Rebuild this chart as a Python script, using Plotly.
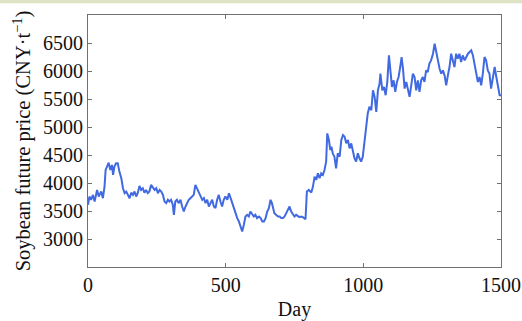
import plotly.graph_objects as go

days = [0, 5, 11, 18, 24, 33, 39, 48, 54, 60, 64, 70, 75, 81, 87, 91, 96, 102, 108, 114,
        121, 127, 133, 139, 145, 151, 157, 163, 169, 175, 181, 187, 193, 199, 205, 211, 217, 223, 229, 236,
        242, 248, 254, 260, 266, 272, 278, 284, 290, 296, 302, 308, 312, 317, 323, 329, 336, 342, 348, 354,
        360, 366, 372, 378, 384, 390, 396, 402, 409, 415, 421, 427, 433, 439, 445, 451, 457, 463, 469, 475,
        481, 487, 493, 499, 506, 512, 518, 524, 530, 536, 542, 548, 554, 560, 566, 572, 578, 584, 590, 596,
        602, 608, 614, 621, 627, 633, 639, 645, 651, 657, 663, 668, 673, 677, 683, 690, 696, 702, 708, 714,
        720, 726, 732, 738, 744, 750, 756, 762, 768, 774, 780, 790, 795, 802, 811, 817, 823, 829, 835, 841,
        847, 853, 859, 865, 869, 875, 880, 884, 889, 895, 901, 907, 914, 920, 926, 932, 938, 944, 950, 956,
        962, 968, 974, 980, 986, 992, 998, 1004, 1010, 1016, 1022, 1029, 1035, 1041, 1047, 1053, 1059, 1062, 1069, 1075,
        1081, 1087, 1093, 1098, 1104, 1110, 1116, 1122, 1128, 1134, 1139, 1144, 1150, 1156, 1162, 1168, 1174, 1180, 1186, 1192,
        1198, 1204, 1210, 1216, 1222, 1228, 1234, 1240, 1246, 1253, 1259, 1265, 1271, 1277, 1283, 1289, 1295, 1301, 1307, 1313,
        1319, 1325, 1331, 1337, 1343, 1349, 1355, 1361, 1368, 1374, 1380, 1386, 1392, 1398, 1404, 1410, 1416, 1422, 1428, 1434,
        1440, 1446, 1452, 1458, 1464, 1470, 1477, 1483, 1489, 1495, 1500]

price = [3610, 3758, 3700, 3788, 3669, 3877, 3758, 3847, 3728, 3936, 4233, 4292, 4363, 4233, 4322, 4144, 4292, 4352, 4352, 4203,
         4085, 3907, 3818, 3847, 3788, 3729, 3827, 3788, 3847, 3758, 3827, 3948, 3877, 3907, 3827, 3877, 3818, 3847, 3966, 3907,
         3877, 3907, 3818, 3877, 3847, 3788, 3669, 3640, 3700, 3669, 3700, 3610, 3432, 3669, 3700, 3640, 3700, 3580, 3491, 3580,
         3640, 3700, 3729, 3758, 3788, 3966, 3907, 3818, 3758, 3700, 3729, 3640, 3700, 3580, 3640, 3700, 3580, 3551, 3700, 3788,
         3669, 3580, 3700, 3758, 3700, 3818, 3729, 3640, 3521, 3432, 3373, 3314, 3224, 3135, 3254, 3402, 3432, 3402, 3491, 3432,
         3402, 3432, 3373, 3402, 3373, 3314, 3314, 3373, 3491, 3551, 3700, 3640, 3521, 3462, 3432, 3402, 3402, 3373, 3373, 3402,
         3462, 3521, 3580, 3491, 3432, 3402, 3432, 3402, 3390, 3402, 3391, 3355, 3847, 3877, 3830, 3936, 4114, 4055, 4174, 4085,
         4174, 4144, 4233, 4381, 4886, 4767, 4589, 4648, 4530, 4470, 4263, 4530, 4470, 4767, 4856, 4826, 4708, 4767, 4619, 4708,
         4589, 4441, 4381, 4530, 4441, 4381, 4470, 4737, 5063, 5241, 5360, 5300, 5656, 5538, 5270, 5656, 5775, 5953, 5656, 5716,
         5567, 5804, 6279, 6012, 5716, 5834, 5626, 5804, 5893, 6071, 6249, 6041, 5686, 5804, 5656, 5538, 5745, 5953, 5893, 5656,
         5834, 5626, 5834, 5893, 5804, 6012, 5982, 6131, 6190, 6309, 6487, 6338, 6131, 6041, 5953, 6012, 5923, 5745, 5923, 6071,
         6309, 6190, 6071, 6309, 6220, 6309, 6160, 6279, 6190, 6249, 6309, 6338, 6368, 6279, 6131, 5923, 5804, 5893, 5745, 5953,
         6249, 6190, 6012, 5953, 5686, 5864, 6071, 5893, 5716, 5567, 5560]

x_ticks = [0, 500, 1000, 1500]
y_ticks = [3000, 3500, 4000, 4500, 5000, 5500, 6000, 6500]

FONT = "Liberation Serif"
TXT = "#111111"

fig = go.Figure()
fig.add_trace(go.Scatter(x=days, y=price, mode="lines",
                         line=dict(color="#4169E1", width=2), showlegend=False))

axis_common = dict(showline=True, linecolor="#707070", linewidth=1, mirror="ticks",
                   ticks="inside", ticklen=4, tickcolor="#707070", showgrid=False,
                   zeroline=False, tickfont=dict(family=FONT, size=20, color=TXT))

fig.update_xaxes(range=[0, 1500], tickvals=x_ticks,
                 title=dict(text="Day", font=dict(family=FONT, size=20, color=TXT), standoff=6),
                 **axis_common)
fig.update_yaxes(range=[2500, 7000], tickvals=y_ticks,
                 title=dict(text="Soybean future price (CNY·t<sup>−1</sup>)",
                            font=dict(family=FONT, size=20.5, color=TXT), standoff=6),
                 **axis_common)

fig.add_shape(type="rect", xref="paper", yref="paper",
              x0=-0.3, x1=1.1, y0=1.0464, y1=1.07,
              fillcolor="#dde3c4", line=dict(width=0), layer="above")

fig.update_layout(width=522, height=321, margin=dict(l=88, r=21, t=15, b=54, autoexpand=False),
                  paper_bgcolor="white", plot_bgcolor="white")

fig.write_html("out.html")
